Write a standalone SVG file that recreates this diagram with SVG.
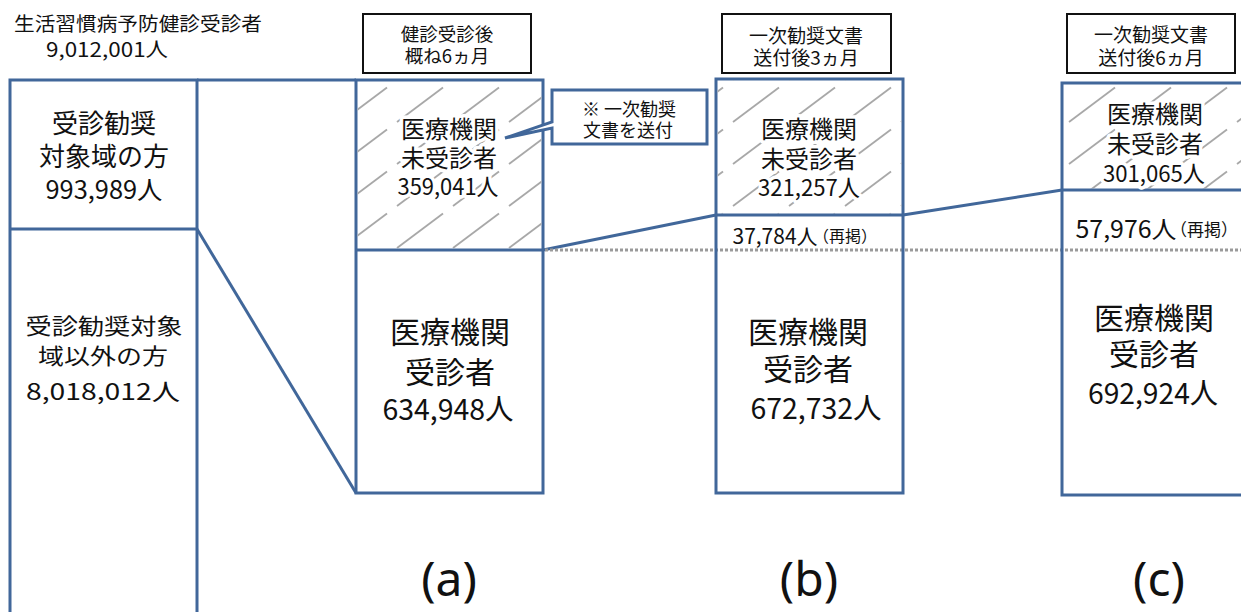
<svg xmlns="http://www.w3.org/2000/svg" width="1241" height="612" viewBox="0 0 1241 612">
<defs>
<pattern id="hatch" patternUnits="userSpaceOnUse" width="56" height="42">
<line x1="5" y1="38" x2="51" y2="3.5" stroke="#a8a8a8" stroke-width="1.8"/>
</pattern>
<style>
.box{fill:#fff;stroke:#41679a;stroke-width:3}
.hat{fill:url(#hatch);stroke:none}
.edge{fill:none;stroke:#41679a;stroke-width:3}
.hdr{fill:#fff;stroke:#111;stroke-width:2}
.dot{fill:none;stroke:#9a9a9a;stroke-width:3;stroke-dasharray:3 2}
text{font-family:"Noto Sans CJK JP","Noto Sans",sans-serif;fill:#111;dominant-baseline:central;text-anchor:middle}
.halo{stroke:#fff;stroke-width:7;paint-order:stroke;stroke-linejoin:round}
.lbl{font-family:"Noto Sans","Open Sans",sans-serif;dominant-baseline:alphabetic;font-size:48px}
</style>
</defs>
<rect width="1241" height="612" fill="#fff"/>

<g id="title">
<text x="138" y="22" font-size="19" textLength="248" lengthAdjust="spacingAndGlyphs">生活習慣病予防健診受診者</text>
<text x="107" y="48" font-size="20" textLength="122" lengthAdjust="spacingAndGlyphs">9,012,001人</text>
</g>

<g id="left-column">
<rect class="box" x="10" y="80" width="187" height="545"/>
<line class="edge" x1="10" y1="229" x2="197" y2="229"/>
<text x="104" y="121" font-size="26">受診勧奨</text>
<text x="104" y="154" font-size="26">対象域の方</text>
<text x="104" y="188" font-size="25" textLength="117" lengthAdjust="spacingAndGlyphs">993,989人</text>
<text x="104" y="324" font-size="22" textLength="157" lengthAdjust="spacingAndGlyphs">受診勧奨対象</text>
<text x="103" y="354" font-size="22" textLength="130" lengthAdjust="spacingAndGlyphs">域以外の方</text>
<text x="103" y="390" font-size="23" textLength="154" lengthAdjust="spacingAndGlyphs">8,018,012人</text>
</g>

<g id="header-a">
<rect class="hdr" x="363" y="14" width="168" height="59"/>
<text x="447" y="33" font-size="18.5">健診受診後</text>
<text x="447" y="55" font-size="18.5">概ね6ヵ月</text>
</g>
<g id="header-b">
<rect class="hdr" x="722" y="14" width="169" height="59"/>
<text x="806" y="34" font-size="19">一次勧奨文書</text>
<text x="806" y="56" font-size="19">送付後3ヵ月</text>
</g>
<g id="header-c">
<rect class="hdr" x="1067" y="14" width="168" height="59"/>
<text x="1151" y="33" font-size="19">一次勧奨文書</text>
<text x="1151" y="56" font-size="19">送付後6ヵ月</text>
</g>

<g id="connectors">
<line class="edge" x1="197" y1="80" x2="356" y2="80"/>
<line class="edge" x1="197" y1="229" x2="356" y2="493"/>
<line class="edge" x1="543" y1="250" x2="716" y2="215"/>
<line class="edge" x1="903" y1="215" x2="1062" y2="190"/>
</g>

<g id="box-a">
<rect class="box" x="356" y="80" width="187" height="413"/>
<rect class="hat" x="357.5" y="81.5" width="184" height="167"/>
<line class="edge" x1="356" y1="250" x2="543" y2="250"/>
<text class="halo" x="449" y="127" font-size="24">医療機関</text>
<text class="halo" x="449" y="156" font-size="24">未受診者</text>
<text class="halo" x="448" y="185" font-size="23" textLength="101" lengthAdjust="spacingAndGlyphs">359,041人</text>
<text x="450" y="330" font-size="30">医療機関</text>
<text x="450" y="370" font-size="30">受診者</text>
<text x="448" y="407" font-size="29" textLength="131" lengthAdjust="spacingAndGlyphs">634,948人</text>
</g>

<g id="callout">
<path d="M552,90 H707 V144 H552 V128 L505,138 L552,122 Z" fill="#fff" stroke="#41679a" stroke-width="3" stroke-linejoin="miter"/>
<text x="629" y="108" font-size="18">※ 一次勧奨</text>
<text x="628" y="129" font-size="18">文書を送付</text>
</g>

<g id="dotted-line">
<line class="dot" x1="545" y1="250" x2="1241" y2="250"/>
</g>

<g id="box-b">
<rect class="box" x="716" y="79" width="187" height="414" style="fill:none"/>
<rect class="hat" x="717.5" y="80.5" width="184" height="133"/>
<line class="edge" x1="716" y1="215" x2="903" y2="215"/>
<text class="halo" x="809" y="127" font-size="24">医療機関</text>
<text class="halo" x="809" y="157" font-size="24">未受診者</text>
<text class="halo" x="809" y="186" font-size="23" textLength="102" lengthAdjust="spacingAndGlyphs">321,257人</text>
<text x="775" y="235" font-size="21" textLength="85" lengthAdjust="spacingAndGlyphs">37,784人</text>
<text x="845" y="235" font-size="16">（再掲）</text>
<text x="808" y="330" font-size="30">医療機関</text>
<text x="808" y="367" font-size="30">受診者</text>
<text x="816" y="406" font-size="29" textLength="131" lengthAdjust="spacingAndGlyphs">672,732人</text>
</g>

<g id="box-c">
<rect class="box" x="1062" y="83" width="200" height="412" style="fill:none"/>
<rect class="hat" x="1063.5" y="84.5" width="190" height="104"/>
<line class="edge" x1="1062" y1="190" x2="1250" y2="190"/>
<text class="halo" x="1155" y="112" font-size="24">医療機関</text>
<text class="halo" x="1155" y="142" font-size="24">未受診者</text>
<text class="halo" x="1154" y="172" font-size="23" textLength="102" lengthAdjust="spacingAndGlyphs">301,065人</text>
<text x="1126" y="227" font-size="24" textLength="101" lengthAdjust="spacingAndGlyphs">57,976人</text>
<text x="1204" y="228" font-size="17">（再掲）</text>
<text x="1154" y="316" font-size="30">医療機関</text>
<text x="1154" y="352" font-size="30">受診者</text>
<text x="1153" y="391" font-size="29" textLength="130" lengthAdjust="spacingAndGlyphs">692,924人</text>
</g>

<g id="labels">
<text class="lbl" x="449" y="596">(a)</text>
<text class="lbl" x="809" y="596">(b)</text>
<text class="lbl" x="1159" y="596">(c)</text>
</g>
</svg>
